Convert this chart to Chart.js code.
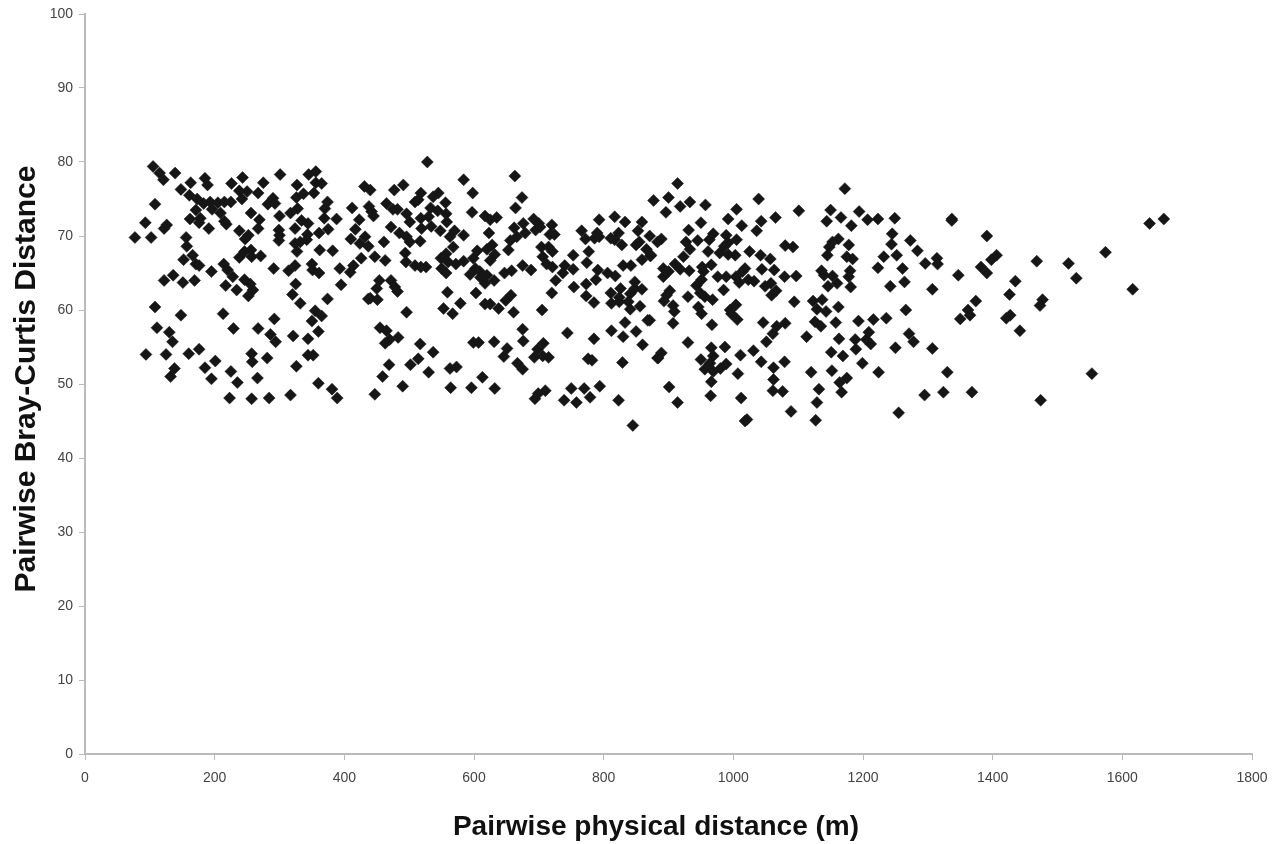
<!DOCTYPE html>
<html>
<head>
<meta charset="utf-8">
<title>Pairwise distance</title>
<script src="https://cdn.jsdelivr.net/npm/chart.js@4/dist/chart.umd.min.js"></script>
<style>
  html, body { margin: 0; padding: 0; background: #fff; }
  canvas { display: block; }
</style>
</head>
<body>
<canvas id="myChart" width="1274" height="844"></canvas>
<script>
// pairwise physical distance (m)
var physicalDistance = [
  105,115,121,139,148,163,161,173,183,185,
  189,193,205,196,215,225,209,226,243,238,
  250,242,275,267,301,290,282,293,256,269,
  267,300,317,327,326,337,353,345,356,356,
  365,328,374,370,369,388,334,344,324,375,
  361,343,412,431,440,438,423,417,410,432,
  424,437,426,414,409,393,395,437,93,108,
  126,122,77,102,162,171,178,176,191,215,
  218,238,252,247,299,300,299,324,332,342,
  327,156,157,166,152,171,176,195,214,220,
  228,246,238,256,257,271,291,314,324,350,
  351,361,362,382,122,136,151,169,217,234,
  246,255,259,252,325,320,332,374,108,148,
  213,292,355,365,350,360,111,130,135,229,
  267,286,294,321,344,94,125,160,176,257,
  258,281,344,352,201,185,138,132,195,225,
  235,266,326,360,381,389,223,257,284,317,
  // middle-left block
  528,584,663,477,491,598,674,877,465,475,
  482,445,442,509,518,514,545,537,556,533,
  544,557,496,501,518,530,558,597,664,617,
  625,635,692,700,720,793,817,833,859,472,
  485,496,501,519,534,548,570,563,584,623,
  662,676,679,666,656,695,702,717,724,766,
  772,786,793,790,811,823,817,828,853,871,
  855,850,883,866,461,447,463,494,495,517,
  509,518,526,568,557,549,560,572,584,550,
  557,605,599,620,628,632,625,602,594,609,
  620,610,617,631,653,647,658,675,688,704,
  715,721,706,712,721,740,753,753,737,726,
  754,774,777,791,788,773,806,818,830,842,
  859,872,848,859,848,826,811,824,812,824,
  841,838,856,841,773,785,720,705,559,603,
  657,649,617,625,638,661,579,553,567,496,
  440,451,454,450,472,478,482,455,465,483,
  470,463,517,537,514,502,469,459,530,490,
  447,563,573,564,596,613,632,599,607,631,
  651,646,667,675,675,676,707,698,693,706,
  715,744,785,812,833,830,850,868,860,776,
  782,829,883,710,699,694,739,750,758,770,
  779,794,823,845,
  // middle-right block
  914,1172,900,933,918,896,957,1039,1005,1101,
  1150,1194,1166,1144,1182,1207,1223,1249,992,1043,
  1065,950,1013,1036,931,969,989,963,945,927,
  889,1005,992,986,933,961,979,992,1003,1025,
  1042,1057,1080,1092,1162,1153,1148,1145,1178,1175,
  1184,1245,1244,1273,1284,1252,1232,1314,1315,1296,
  1223,1261,1264,1242,1307,923,910,892,900,892,
  918,932,952,966,954,951,943,949,976,989,
  1004,1009,1018,1014,1023,1032,1044,1063,1079,1097,
  985,1049,1058,1066,1059,1136,1140,1153,1160,1146,
  1180,1178,1181,902,897,893,930,956,968,907,
  909,946,951,1004,995,997,1006,1094,1123,1137,
  1129,1162,1143,1126,1135,1158,1266,1193,1216,1236,
  907,967,1046,1080,1067,1061,1051,1113,1163,1188,
  1209,1205,1212,1189,1271,1278,1250,1307,930,889,
  884,966,987,969,950,964,989,980,956,969,
  966,1011,1031,1043,1079,1062,1007,1062,1061,1076,
  1151,1169,1199,1120,1152,1224,1175,1164,1132,1167,
  1129,901,914,965,1012,1021,1018,1089,1127,1255,
  1295,1324,1330,871,873,
  // long distance tail
  1347,1337,1337,1391,1406,1398,1382,1391,1468,1517,
  1529,1574,1642,1664,1616,1435,1426,1374,1362,1365,
  1350,1477,1473,1427,1421,1442,1553,1368,1474
];

// pairwise Bray-Curtis distance, same order as physicalDistance
var brayCurtis = [
  79.4,78.5,77.6,78.5,76.3,77.2,75.5,75,74.4,77.8,
  76.9,74.6,74.5,73.6,74.6,74.6,73.1,77.1,77.9,76.1,
  76,75,77.2,75.8,78.3,75.1,74.3,74.4,73.1,72.2,
  71,72.7,73.1,76.9,75.2,75.7,75.8,78.3,78.7,77.2,
  77.1,73.7,74.6,73.7,72.4,72.3,72.1,71.7,71,70.9,
  70.4,70.2,73.8,76.7,76.2,74,72.2,70.9,69.6,69.9,
  69,68.6,67,66,65.1,65.6,63.4,61.5,71.8,74.3,
  71.5,71,69.8,69.8,72.3,73.5,72.4,71.8,71,72,
  71.6,70.7,70.1,69.6,70.8,70.1,69.4,69,69.2,69.5,
  67.9,69.8,68.6,67.4,66.8,66.2,66,65.2,66.2,65.4,
  64.5,67.9,67.1,68.1,67.2,67.3,65.6,65.3,66,66.2,
  65.4,65,68.1,68,64,64.7,63.7,64,63.3,62.7,
  64.1,63.5,62.7,61.9,63.5,62.1,60.9,61.5,60.4,59.3,
  59.5,58.8,59.9,59.2,58.5,57.1,57.6,57,55.7,57.5,
  57.5,56.7,55.7,56.5,56.1,54,54,54.1,54.7,54.1,
  53,53.5,53.9,53.9,53.1,52.2,52.1,51,50.7,51.7,
  50.2,50.8,52.4,50.1,49.3,48.1,48.1,48,48.1,48.5,
  // middle-left block
  80,77.6,78.1,76.2,76.9,75.8,75.2,74.8,74.4,73.6,
  73.6,72.7,73.3,74.6,75.8,74.9,75.8,75.3,74.5,73.8,
  73.4,73,73,71.9,72.4,72.6,71.9,73.2,73.8,72.7,
  72.2,72.5,72.3,71.7,71.5,72.2,72.6,71.9,71.9,71.2,
  70.4,69.9,69.2,71,71.3,70.7,70.7,69.9,70.1,70.4,
  71.1,71.7,70.4,69.9,69.4,70.8,71.2,70.2,70.2,70.7,
  69.6,69.7,69.9,70.4,69.7,70.4,69.5,68.8,70.7,70,
  69.2,68.8,69.2,68.2,69.2,67.2,66.7,67.7,66.5,69.3,
  66,65.8,65.8,68.5,67.6,67,66.5,66.2,66.6,65.6,
  65,68,67,68.2,68.8,67.5,66.7,65.6,64.8,65.2,
  64.7,64.4,63.6,64,68.1,65,65.3,66,65.4,68.5,
  68.5,67.9,67.2,66.2,65.8,66,67.4,65.5,65,64,
  63.1,66.4,67.9,65.4,64.1,63.5,65,64.6,66,66,
  66.8,67.3,63.8,62.8,62.9,62.9,62.3,61.7,60.9,61.1,
  62.2,61.1,60.5,60.1,61.9,61,62.3,60,62.4,62.3,
  62,61.3,60.8,60.8,60.2,59.7,60.9,60.2,59.5,59.7,
  61.6,61.4,64,62.9,64,63.1,62.5,57.6,57.2,56.3,
  56,55.5,55.4,54.3,53.4,52.6,52.6,51,51.6,49.7,
  48.6,52.1,52.3,49.5,49.5,50.9,49.4,55.6,55.6,55.7,
  54.8,53.7,52.8,52,57.4,55.8,55.5,54.7,53.6,53.8,
  53.6,56.9,56.1,57.2,58.3,56.4,57.1,58.6,55.3,53.4,
  53.2,52.9,53.5,49.1,48.7,48,47.8,49.4,47.5,49.4,
  48.2,49.7,47.8,44.4,
  // middle-right block
  77.1,76.4,75.2,74.6,74,73.2,74.2,75,73.6,73.4,
  73.5,73.3,72.5,72,71.4,72.2,72.3,72.4,72.3,72,
  72.5,71.8,71.4,70.7,70.8,70.3,70.1,69.5,69.4,69.2,
  69.6,69.5,69.1,68.6,68.2,67.9,67.7,67.5,67.4,67.9,
  67.4,66.9,68.7,68.5,69.6,69.2,68.5,67.4,68.8,67.2,
  66.9,70.3,68.9,69.4,68,67.4,67.2,67,66.2,66.3,
  65.7,65.6,63.8,63.2,62.8,67.2,66.2,65.6,65.2,64.5,
  65.5,65.3,65.8,66.1,65.2,64.1,63.3,62.3,64.5,64.5,
  64.5,63.7,65.6,65.2,64.1,63.9,65.5,65.4,64.5,64.6,
  62.7,63.2,63.6,62.6,62,65.3,64.7,64.6,63.6,63.2,
  65.3,64.5,63.1,62.6,62,61.2,61.8,61.8,61.4,60.6,
  59.8,60.4,59.5,60.7,60,59.5,58.7,61.1,61.2,61.4,
  60.1,60.4,59.8,58.4,57.8,58.3,60,58.5,58.7,58.9,
  58.2,58,58.3,58.2,57.8,56.8,55.7,56.4,56.1,56,
  57,56,55.4,54.7,56.8,55.7,54.9,54.8,55.6,54.2,
  53.5,54.9,55,53.8,53.3,52.8,52.7,52.1,52,51.7,
  50.3,53.9,54.5,53,53,52.2,51.4,50.6,49.1,49,
  54.3,53.8,52.8,51.6,51.8,51.6,50.8,50.2,49.3,48.9,
  47.5,49.6,47.5,48.4,48.1,45.2,45,46.3,45.1,46.1,
  48.5,48.9,51.6,58.6,67.4,
  // long distance tail
  64.7,72.1,72.3,70,67.4,66.8,65.8,65,66.6,66.3,
  64.3,67.8,71.7,72.3,62.8,63.9,62.1,61.2,60,59.3,
  58.8,61.4,60.6,59.3,58.9,57.2,51.4,48.9,47.8
];

var xTicks = [0, 200, 400, 600, 800, 1000, 1200, 1400, 1600, 1800];
var yTicks = [0, 10, 20, 30, 40, 50, 60, 70, 80, 90, 100];

var xTitle = 'Pairwise physical distance (m)';
var yTitle = 'Pairwise Bray-Curtis Distance';

var axisColor = '#bababa';
var tickColor = '#444444';

// the titles are not centred on the plot in the original, so they are placed by hand
var axisTitles = {
    id: 'axisTitles',
    afterDraw: function (chart) {
        var c = chart.ctx;
        c.save();
        c.fillStyle = '#111111';
        c.textAlign = 'center';
        c.textBaseline = 'alphabetic';
        c.font = 'bold 28px "Liberation Sans"';
        c.fillText(xTitle, 656, 835);
        c.translate(35, 379);
        c.rotate(-Math.PI / 2);
        c.font = 'bold 30px "Liberation Sans"';
        c.fillText(yTitle, 0, 0);
        c.restore();
    }
};

var points = physicalDistance.map(function (d, i) {
    return { x: d, y: brayCurtis[i] };
});

var ctx = document.getElementById('myChart').getContext('2d');

var myChart = new Chart(ctx, {
    type: 'scatter',
    data: {
        datasets: [{
            data: points,
            pointStyle: 'rectRot',
            pointRadius: 6,
            pointBackgroundColor: '#161616',
            pointBorderColor: '#161616',
            pointBorderWidth: 0.5
        }]
    },
    options: {
        responsive: false,
        animation: false,
        layout: { padding: { top: 14, right: 22, left: 0, bottom: 0 } },
        plugins: { legend: { display: false }, tooltip: { enabled: false } },
        scales: {
            x: {
                type: 'linear',
                min: 0,
                max: 1800,
                // fixed box, so the long tick labels do not push the plot area in
                afterFit: function (s) { s.height = 90; s.paddingLeft = 0; s.paddingRight = 0; },
                afterBuildTicks: function (s) { s.ticks = xTicks.map(function (v) { return { value: v }; }); },
                border: { color: axisColor, width: 2 },
                grid: { drawOnChartArea: false, drawTicks: true, tickLength: 6, color: axisColor },
                ticks: {
                    maxRotation: 0,
                    padding: 10,
                    color: tickColor,
                    font: { family: 'Liberation Sans', size: 14 },
                    callback: function (v) { return String(v); }
                }
            },
            y: {
                min: 0,
                max: 100,
                afterFit: function (s) { s.width = 85; s.paddingTop = 0; s.paddingBottom = 0; },
                afterBuildTicks: function (s) { s.ticks = yTicks.map(function (v) { return { value: v }; }); },
                border: { color: axisColor, width: 2 },
                grid: { drawOnChartArea: false, drawTicks: true, tickLength: 6, color: axisColor },
                ticks: {
                    padding: 6,
                    color: tickColor,
                    font: { family: 'Liberation Sans', size: 14 }
                }
            }
        }
    },
    plugins: [axisTitles]
});
</script>
</body>
</html>
